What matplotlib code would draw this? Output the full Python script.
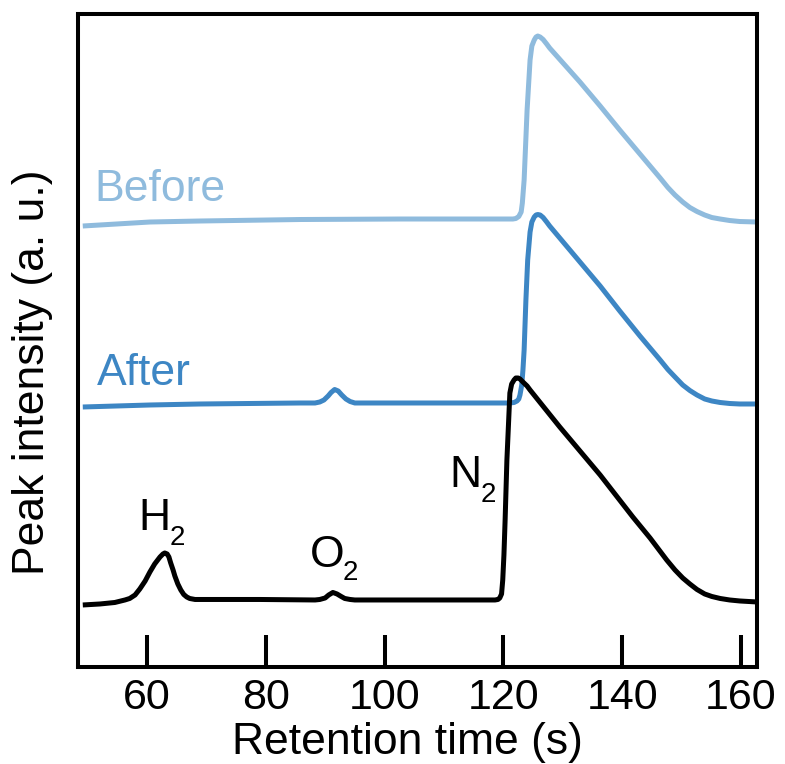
import matplotlib

matplotlib.use("Agg")
import matplotlib.pyplot as plt

plt.rcParams["font.family"] = ["Liberation Sans", "DejaVu Sans"]

BEFORE_C = "#8fbbdd"
AFTER_C = "#3d86c4"
NOIR = "black"

# Chromatogrammes (temps de rétention en s, intensité en u. a.)
t_ref = [49.2, 52.1, 54.6, 56.3, 57.1, 58.0, 58.8, 59.7, 60.5, 61.3, 62.2, 62.7,
         63.0, 63.4, 63.7, 64.0, 64.4, 64.7, 65.2, 65.7, 66.2, 66.7, 67.2, 68.1,
         70.6, 79.0, 88.3, 89.1, 90.0, 90.6, 91.3, 92.0, 92.7, 93.3, 94.2, 95.0,
         102.6, 118.6, 119.1, 119.4, 119.7, 119.9, 120.1, 120.3, 120.6, 120.9,
         121.1, 121.4, 121.8, 122.1, 122.5, 122.8, 123.3, 124.0, 124.5, 129.5,
         136.3, 141.8, 144.7, 147.5, 148.9, 150.2, 151.4, 152.6, 153.9, 155.1,
         156.5, 158.1, 159.8, 162.7]
i_ref = [62, 63, 64.5, 67, 68.5, 72, 78, 86, 95, 103, 110, 113,
         114, 113, 110, 104, 97, 91, 83, 77, 72.5, 70, 68.5, 67.5,
         67.5, 67.5, 67, 67.5, 69, 72, 74.5, 73, 70.5, 68.5, 67.5, 67,
         67, 67, 67.5, 69, 73, 87, 112, 147, 207, 247,
         274, 283, 287, 289, 289, 288, 285, 281, 277, 240,
         192, 150, 129, 107, 97, 89, 83, 77.5, 73, 70.5,
         68.5, 67, 66, 65]

t_after = [49.2, 60.5, 68.9, 77.3, 85.8, 88.3, 89.1, 89.8, 90.5, 91.0, 91.6, 92.2,
           92.8, 93.5, 94.2, 95.0, 111.0, 121.1, 121.8, 122.3, 122.6, 122.8, 123.1,
           123.3, 123.5, 123.8, 124.1, 124.5, 124.8, 125.2, 125.5, 125.8, 126.2,
           126.7, 127.3, 127.8, 132.9, 136.3, 139.6, 143.0, 144.7, 146.4, 147.7,
           148.9, 150.2, 151.4, 152.6, 153.9, 155.1, 156.5, 158.1, 159.8, 162.7]
i_after = [260, 262, 263, 263.5, 264, 264, 265, 267, 271, 274.5, 277.5, 276,
           272, 268, 265.5, 264, 264, 264, 264.5, 266, 268, 272, 282,
           297, 317, 367, 407, 435, 445, 450, 452, 452.5, 452,
           449.5, 445, 441, 405, 381, 356, 331, 319, 307, 297.5,
           290, 282, 276.5, 272, 268, 266, 264.5, 263.5, 263, 263]

t_before = [49.2, 60.5, 68.9, 85.8, 102.6, 119.4, 121.6, 122.1, 122.6, 123.0, 123.2,
            123.5, 124.0, 124.5, 124.8, 125.2, 125.5, 125.8, 126.2, 126.7, 127.3,
            127.8, 132.9, 136.3, 139.6, 143.0, 144.7, 146.4, 147.7, 148.9, 150.2,
            151.4, 152.6, 153.9, 155.1, 156.5, 158.1, 159.8, 162.7]
i_before = [441, 445, 446, 447.5, 448, 448, 448, 448.5, 450.5, 455, 464,
            487, 557, 607, 621, 627, 630, 631, 630, 627.5, 623,
            619, 585, 561, 537, 513, 501, 489, 479.5, 472, 465,
            459.5, 455.5, 452, 449.5, 448, 446.5, 445.5, 445]

xticks = [60, 80, 100, 120, 140, 160]

fig = plt.figure(figsize=(7.85, 7.64), dpi=100)
ax = fig.add_axes([0.0994, 0.127, 0.8649, 0.8553])

kw = dict(lw=3.6, solid_joinstyle="round", solid_capstyle="butt")
ax.plot(t_before, i_before, color=BEFORE_C, **kw)
ax.plot(t_after, i_after, color=AFTER_C, **kw)
ax.plot(t_ref, i_ref, color=NOIR, **kw)

ax.set_xlim(48.4, 162.7)
ax.set_ylim(0, 653.5)

# étiquettes des courbes
ax.text(51.2, 466, "Before", color=BEFORE_C, fontsize=32, va="baseline")
ax.text(51.6, 282, "After", color=AFTER_C, fontsize=32, va="baseline")


def gaz(x, y, nom, xs, ys):
    ax.text(x, y, nom, fontsize=32, va="baseline", color=NOIR)
    ax.text(xs, ys, "2", fontsize=20, va="baseline", color=NOIR)


gaz(58.6, 137, "H", 63.9, 122)
gaz(87.4, 100, "O", 93.0, 87)
gaz(110.9, 180, "N", 116.2, 165)

for s in ax.spines.values():
    s.set_linewidth(2.9)
ax.set_xticks(xticks)
ax.set_yticks([])
ax.tick_params(axis="x", direction="in", length=23, width=2.9, pad=8,
               labelsize=31)

ax.set_xlabel("Retention time (s)", fontsize=32)
ax.xaxis.set_label_coords(0.4853, -0.084)
ax.set_ylabel("Peak intensity (a. u.)", fontsize=32)
ax.yaxis.set_label_coords(-0.037, 0.4507)

fig.savefig("out.png", dpi=100, facecolor="white")
